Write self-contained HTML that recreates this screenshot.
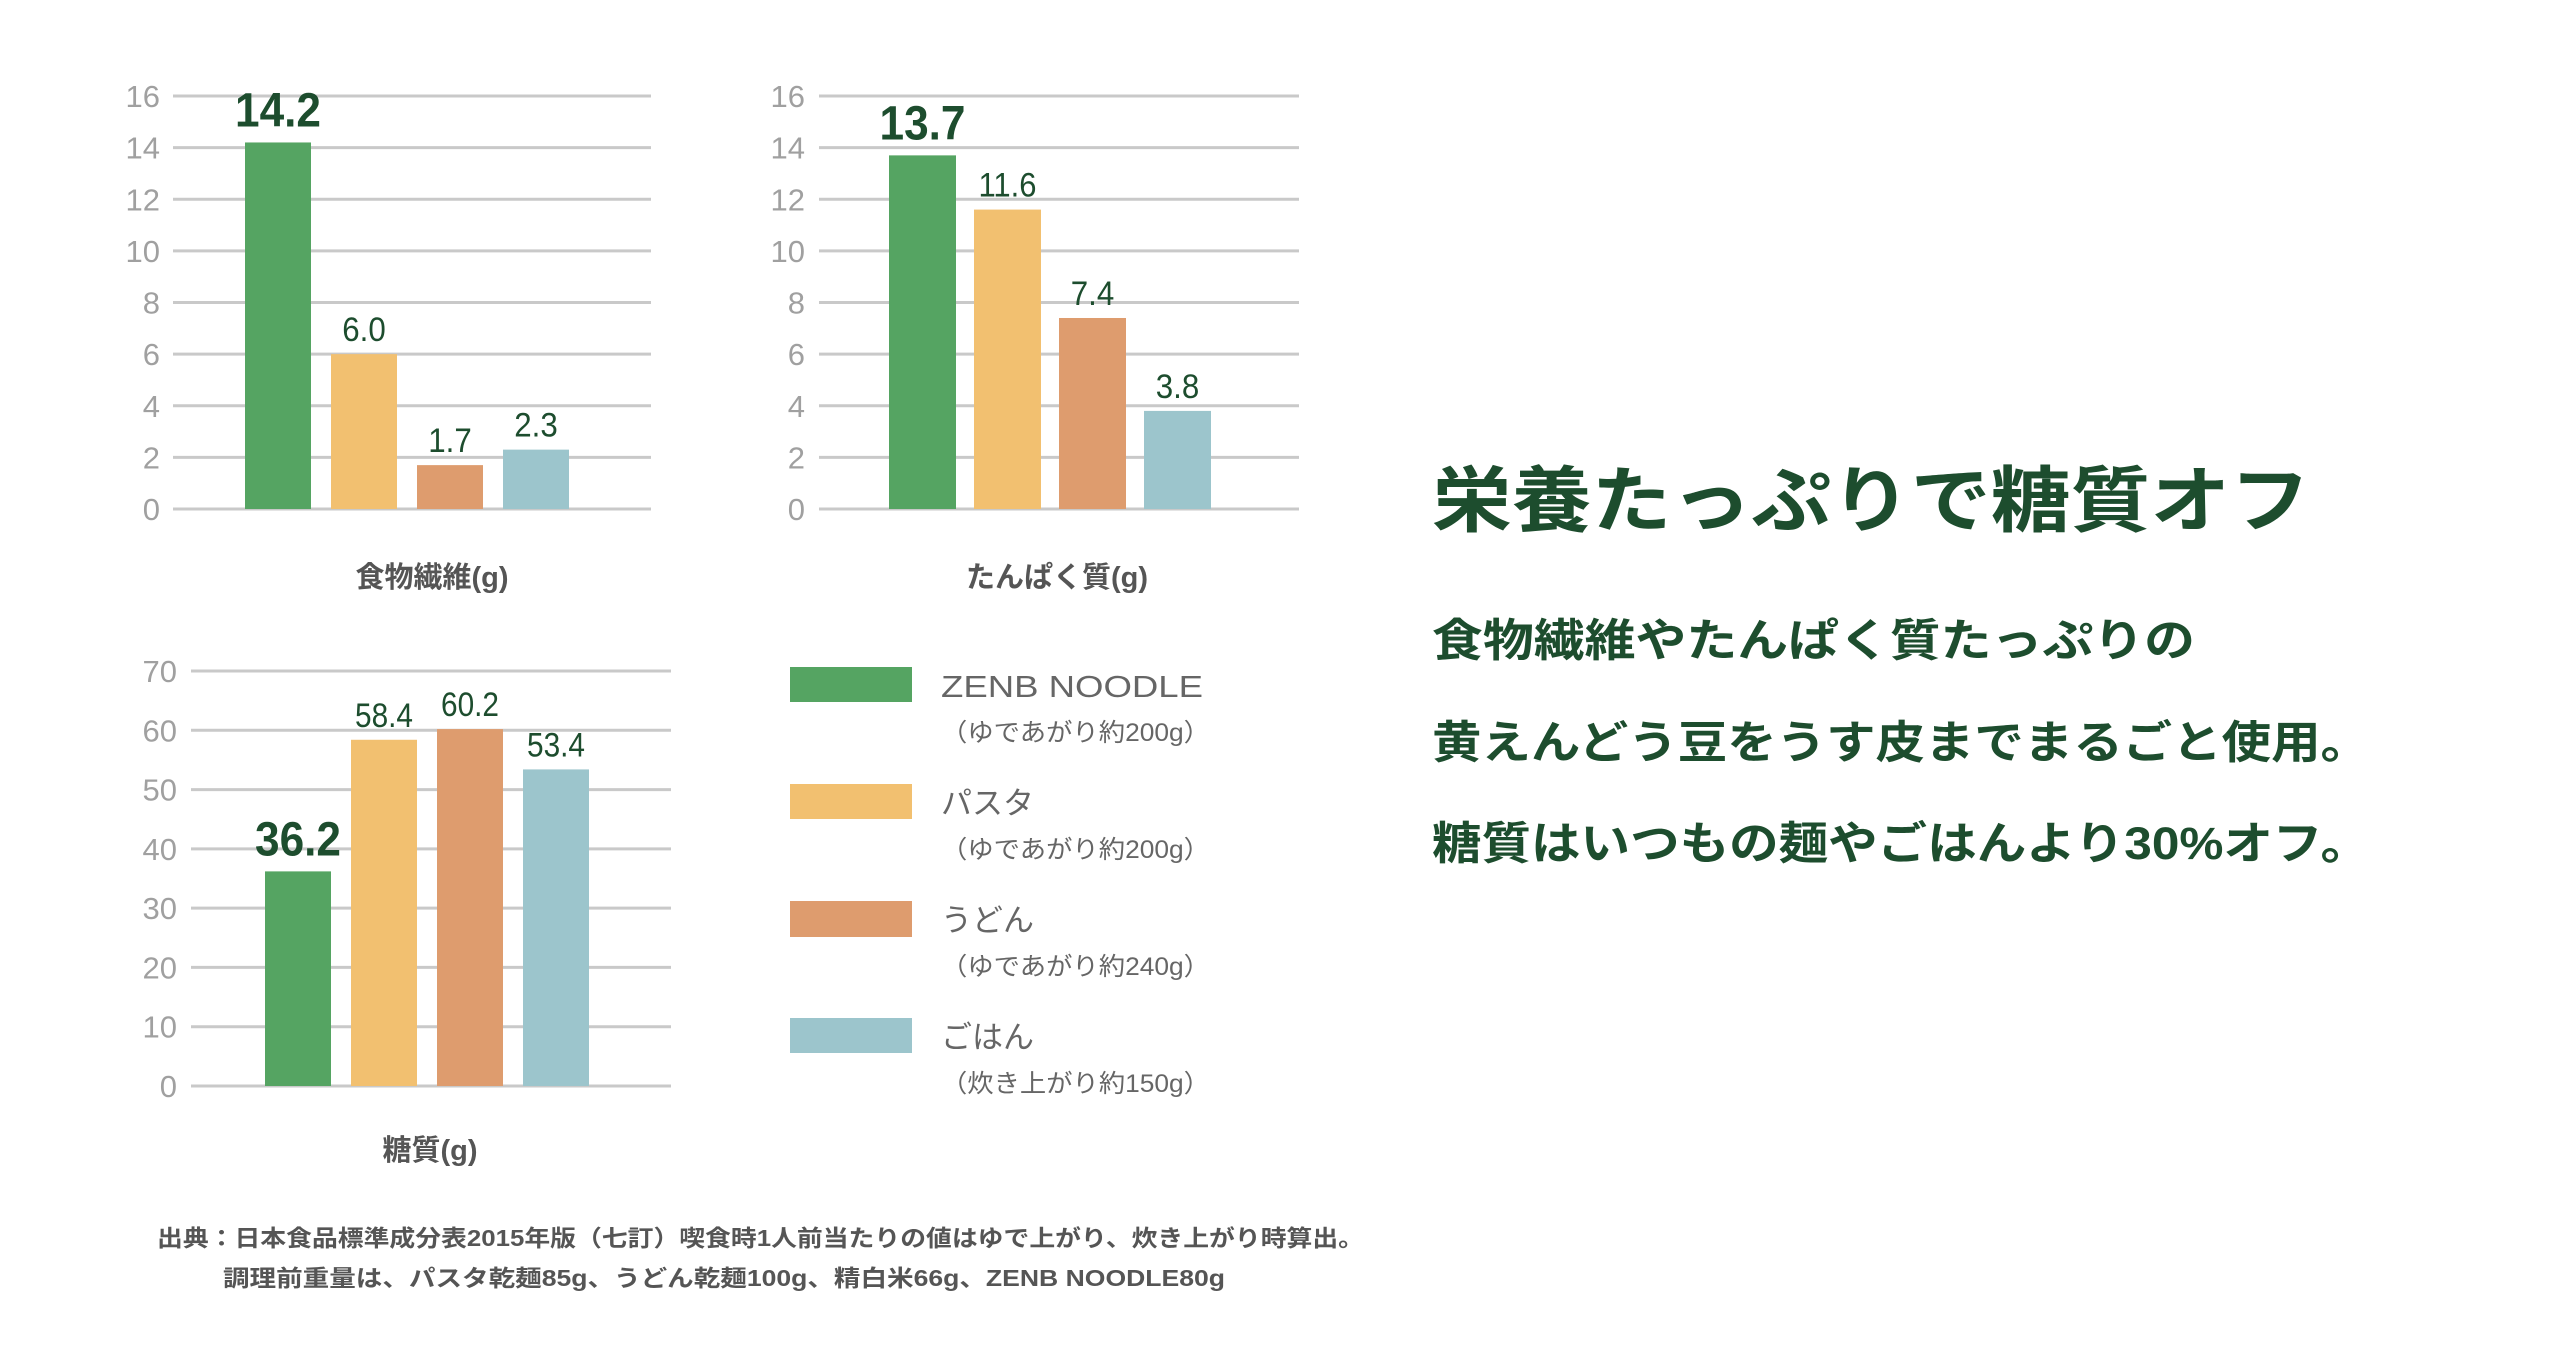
<!DOCTYPE html>
<html><head><meta charset="utf-8"><style>
body{margin:0;background:#fff;}
svg{display:block;font-family:"Liberation Sans","Noto Sans CJK JP",sans-serif;}
</style></head><body>
<svg id="s" width="2560" height="1350" viewBox="0 0 2560 1350">
<g id="charts"></g>
<g>
 <rect x="790" y="667" width="122" height="35" fill="#55a462"/>
 <text x="941" y="697" font-size="31" fill="#666" textLength="262" lengthAdjust="spacingAndGlyphs">ZENB NOODLE</text>
 <text x="941" y="741" font-size="25" fill="#666" textLength="269" lengthAdjust="spacingAndGlyphs">（ゆであがり約200g）</text>
 <rect x="790" y="784" width="122" height="35" fill="#f2c070"/>
 <text x="941" y="814" font-size="31" fill="#666">パスタ</text>
 <text x="941" y="858" font-size="25" fill="#666" textLength="269" lengthAdjust="spacingAndGlyphs">（ゆであがり約200g）</text>
 <rect x="790" y="901" width="122" height="36" fill="#de9c6e"/>
 <text x="941" y="931" font-size="31" fill="#666">うどん</text>
 <text x="941" y="975" font-size="25" fill="#666" textLength="269" lengthAdjust="spacingAndGlyphs">（ゆであがり約240g）</text>
 <rect x="790" y="1018" width="122" height="35" fill="#9cc5cc"/>
 <text x="941" y="1048" font-size="31" fill="#666">ごはん</text>
 <text x="941" y="1092" font-size="25" fill="#666" textLength="269" lengthAdjust="spacingAndGlyphs">（炊き上がり約150g）</text>
</g>
<text x="157" y="1246" font-size="23" font-weight="bold" fill="#555" textLength="1207" lengthAdjust="spacingAndGlyphs">出典：日本食品標準成分表2015年版（七訂）喫食時1人前当たりの値はゆで上がり、炊き上がり時算出。</text>
<text x="223" y="1286" font-size="23" font-weight="bold" fill="#555" textLength="1002" lengthAdjust="spacingAndGlyphs">調理前重量は、パスタ乾麺85g、うどん乾麺100g、精白米66g、ZENB NOODLE80g</text>
<g fill="#1d4d2e" font-weight="bold">
 <text x="1432" y="526" font-size="72" textLength="878" lengthAdjust="spacingAndGlyphs">栄養たっぷりで糖質オフ</text>
 <text x="1432" y="656" font-size="45" textLength="763" lengthAdjust="spacingAndGlyphs">食物繊維やたんぱく質たっぷりの</text>
 <text x="1432" y="758" font-size="45" textLength="938" lengthAdjust="spacingAndGlyphs">黄えんどう豆をうす皮までまるごと使用。</text>
 <text x="1432" y="859" font-size="45" textLength="938" lengthAdjust="spacingAndGlyphs">糖質はいつもの麺やごはんより30%オフ。</text>
</g>
</svg>
<script>
const colors = ["#55a462","#f2c070","#de9c6e","#9cc5cc"];
const fiberValues = [14.2, 6.0, 1.7, 2.3];
const fiberLabels = ["14.2","6.0","1.7","2.3"];
const proteinValues = [13.7, 11.6, 7.4, 3.8];
const proteinLabels = ["13.7","11.6","7.4","3.8"];
const carbValues = [36.2, 58.4, 60.2, 53.4];
const carbLabels = ["36.2","58.4","60.2","53.4"];
const smallTicks = [0,2,4,6,8,10,12,14,16];
const carbTicks = [0,10,20,30,40,50,60,70];

const NS = "http://www.w3.org/2000/svg";
const root = document.getElementById('charts');
function mk(tag, attrs, parent){
  const e = document.createElementNS(NS, tag);
  for (const k in attrs) e.setAttribute(k, attrs[k]);
  parent.appendChild(e); return e;
}
function chart(cfg, values, labels, ticks){
  const g = mk('g', {}, root);
  
  
  const max = ticks[ticks.length-1];
  const y = v => cfg.y0 - (v / max) * (cfg.y0 - cfg.yTop);
  ticks.forEach(t => {
    const l = mk('line', {x1:cfg.gx0, x2:cfg.gx1, y1:y(t), y2:y(t), stroke:'#c9c9c9', 'stroke-width':3}, g);
    
    
    const tx = mk('text', {x:cfg.labelRight, y:y(t)+11, 'font-size':31, fill:'#a0a0a0', 'text-anchor':'end'}, g);
    tx.textContent = t;
    
    
  });
  const x = i => cfg.bx0 + i * cfg.step;
  values.forEach((v, i) => {
    const r = mk('rect', {x:x(i), y:y(v), width:cfg.bw, height:cfg.y0 - y(v), fill:colors[i]}, g);
    
    
    const big = i === 0;
    const lab = labels[i];
    const w = big ? lab.length * 21.5 : lab.length * 14.5;
    const t = mk('text', {x:x(i) + cfg.bw/2, y:y(v) - (big ? 16 : 13), 'font-size': big ? 48 : 34,
      'font-weight': big ? 'bold' : 'normal', fill:'#1d4d2e', 'text-anchor':'middle',
      textLength:w, lengthAdjust:'spacingAndGlyphs'}, g);
    t.textContent = lab;
    
    
  });
  const tt = mk('text', {x:cfg.titleX, y:cfg.titleY, 'font-size':29, 'font-weight':'bold', fill:'#555', 'text-anchor':'middle'}, g);
  tt.textContent = cfg.title;
  
  
}
chart({name:'fiber-chart', gx0:173, gx1:651, y0:509, yTop:96, labelRight:160, bx0:245, step:86, bw:66, title:'食物繊維(g)', titleX:432, titleY:587}, fiberValues, fiberLabels, smallTicks);
chart({name:'protein-chart', gx0:819, gx1:1299, y0:509, yTop:96, labelRight:805, bx0:889, step:85, bw:67, title:'たんぱく質(g)', titleX:1057, titleY:587}, proteinValues, proteinLabels, smallTicks);
chart({name:'carb-chart', gx0:191, gx1:671, y0:1086, yTop:671, labelRight:177, bx0:265, step:86, bw:66, title:'糖質(g)', titleX:430, titleY:1160}, carbValues, carbLabels, carbTicks);
</script>
</body></html>
